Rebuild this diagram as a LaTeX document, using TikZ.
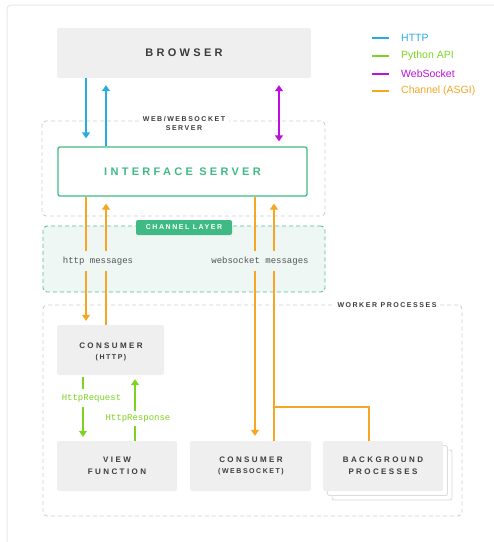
\documentclass[tikz,border=0pt]{standalone}
\usepackage{fontspec}
\setmainfont{Liberation Sans}
\setmonofont{Liberation Mono}
\newfontfamily\spaced[LetterSpace=30]{Liberation Sans}
\newfontfamily\spacedt[LetterSpace=22]{Liberation Sans}
\usetikzlibrary{arrows.meta,calc}
\definecolor{httpc}{HTML}{29ABE2}
\definecolor{pyc}{HTML}{7ED321}
\definecolor{wsc}{HTML}{BD10E0}
\definecolor{chc}{HTML}{F5A623}
\definecolor{boxgray}{HTML}{EFEFEF}
\definecolor{dashgray}{HTML}{CFCFCF}
\definecolor{framegray}{HTML}{E8E8E8}
\definecolor{stackgray}{HTML}{DCDCDC}
\definecolor{lblgray}{HTML}{3C3C3C}
\definecolor{ifgreen}{HTML}{3FBA84}
\definecolor{chfill}{HTML}{EEF7F3}
\definecolor{monogray}{HTML}{555555}
\tikzset{
  graybox/.style={fill=boxgray, draw=none, rounded corners=2pt, inner sep=0pt, align=center, text=lblgray},
  bigtxt/.style={font=\spaced\bfseries\fontsize{11}{13}\selectfont},
  smalltxt/.style={font=\spaced\bfseries\fontsize{8}{12}\selectfont},
  tinytxt/.style={font=\spacedt\bfseries\fontsize{7}{9}\selectfont},
  dashbox/.style={draw=dashgray, dash pattern=on 4pt off 3pt, line width=0.9pt, rounded corners=4pt, inner sep=0pt},
  conn/.style={line width=1.3pt, -{Triangle[width=8pt,length=6pt]}},
  plainconn/.style={line width=1.3pt},
  monotxt/.style={font=\ttfamily\fontsize{9}{11}\selectfont, inner xsep=2pt},
}
\begin{document}
\begin{tikzpicture}[x=1pt,y=-1pt]
\useasboundingbox (0,0) rectangle (494,542);
\begin{scope}
\clip (0,0) rectangle (494,542);
\draw[framegray, line width=1pt, rounded corners=4pt] (7,5) rectangle (530,580);
\end{scope}

% legend
\foreach \yy/\cc/\tt [count=\i] in {38/httpc/HTTP, 56/pyc/Python API, 74/wsc/WebSocket, 91/chc/Channel (ASGI)}{
  \coordinate (lg\i a) at (372,\yy);
  \coordinate (lg\i b) at (389,\yy);
  \draw[\cc, line width=1.3pt] (lg\i a) -- (lg\i b);
  \node[anchor=west, text=\cc, font=\fontsize{10.5}{12}\selectfont, inner sep=0pt] (lgt\i) at (401,\yy) {\tt};
}

% containers
\node[dashbox, minimum width=283pt, minimum height=95pt] (websrv) at (183.5,168.5) {};
\node[dashbox, draw=ifgreen!90, fill=chfill, minimum width=282pt, minimum height=66pt] (chl) at (184,259) {};
\node[dashbox, minimum width=419pt, minimum height=211pt] (worker) at (252.5,410.5) {};

% boxes
\node[graybox, bigtxt, minimum width=254pt, minimum height=50pt] (browser) at (184,53) {BROWSER};
\node[draw=ifgreen, line width=1.3pt, fill=white, rounded corners=2pt, text=ifgreen, bigtxt, minimum width=249pt, minimum height=49pt, inner sep=0pt] (iface) at (182.5,171.5) {INTERFACE SERVER};
\node[graybox, minimum width=107pt, minimum height=50pt] (chttp) at (110.5,350) {};
\node[smalltxt, text=lblgray, inner sep=0pt] (chttpa) at (111,346) {CONSUMER};
\node[tinytxt, text=lblgray, inner sep=0pt] (chttpb) at (111,357.5) {(HTTP)};
\node[graybox, smalltxt, minimum width=120pt, minimum height=50pt] (view) at (117,466) {VIEW\\FUNCTION};
\node[graybox, minimum width=121pt, minimum height=50pt] (cws) at (250.5,466) {};
\node[smalltxt, text=lblgray, inner sep=0pt] (cwsa) at (251,460) {CONSUMER};
\node[tinytxt, text=lblgray, inner sep=0pt] (cwsb) at (251,472) {(WEBSOCKET)};
\node[fill=white, draw=stackgray, line width=0.9pt, rounded corners=2pt, minimum width=120pt, minimum height=50pt] (bg3) at (392,475) {};
\node[fill=white, draw=stackgray, line width=0.9pt, rounded corners=2pt, minimum width=120pt, minimum height=50pt] (bg2) at (387.5,470.5) {};
\node[graybox, smalltxt, minimum width=120pt, minimum height=50pt] (bg) at (383,466) {BACKGROUND\\PROCESSES};

% x positions
\coordinate (x1) at (86,0);
\coordinate (x2) at (106,0);
\coordinate (x3) at (255,0);
\coordinate (x4) at (274,0);
\coordinate (xp) at (279,0);
\coordinate (g1) at (83,0);
\coordinate (g2) at (135,0);
\coordinate (xb) at (369,0);
\coordinate (br) at (274,407);

% HTTP / WebSocket
\draw[conn, httpc, shorten >=8pt] (browser.south -| x1) -- (iface.north -| x1);
\draw[conn, httpc, shorten >=7pt] (iface.north -| x2) -- (browser.south -| x2);
\draw[line width=1.3pt, wsc, {Triangle[width=8pt,length=6pt]}-{Triangle[width=8pt,length=6pt]}, shorten <=7pt, shorten >=5pt] (browser.south -| xp) -- (iface.north -| xp);

% channel
\draw[conn, chc, shorten >=4pt] (iface.south -| x1) -- (chttp.north -| x1);
\draw[conn, chc, shorten >=7pt] (chttp.north -| x2) -- (iface.south -| x2);
\draw[conn, chc, shorten >=5pt] (iface.south -| x3) -- (cws.north -| x3);
\draw[conn, chc, shorten >=7pt] (cws.north -| x4) -- (iface.south -| x4);
\draw[plainconn, chc] (br) -| (bg.north -| xb);

% python api
\draw[conn, pyc, shorten <=2pt, shorten >=4pt] (chttp.south -| g1) -- (view.north -| g1);
\draw[conn, pyc, shorten >=4pt] (view.north -| g2) -- (chttp.south -| g2);

% labels over lines
\node[fill=white, text=lblgray, tinytxt, align=center, inner xsep=4pt, inner ysep=1pt] (wslbl) at (184,123.5) {WEB/WEBSOCKET\\SERVER};
\node[fill=ifgreen, text=white, tinytxt, rounded corners=2pt, minimum width=96pt, minimum height=15pt, inner sep=0pt] (chtab) at (184,227.5) {CHANNEL LAYER};
\node[fill=white, text=lblgray, tinytxt, inner xsep=4pt, inner ysep=1pt] (wklbl) at (387,305) {WORKER PROCESSES};
\node[monotxt, fill=chfill, text=monogray, inner ysep=6pt] (hm) at (98,261) {http messages};
\node[monotxt, fill=chfill, text=monogray, inner ysep=6pt] (wm) at (260,261) {websocket messages};
\node[monotxt, fill=white, text=pyc, inner ysep=5.5pt] (hreq) at (91.5,398) {HttpRequest};
\node[monotxt, fill=white, text=pyc, inner ysep=4pt] (hres) at (138,418.5) {HttpResponse};
\end{tikzpicture}
\end{document}
